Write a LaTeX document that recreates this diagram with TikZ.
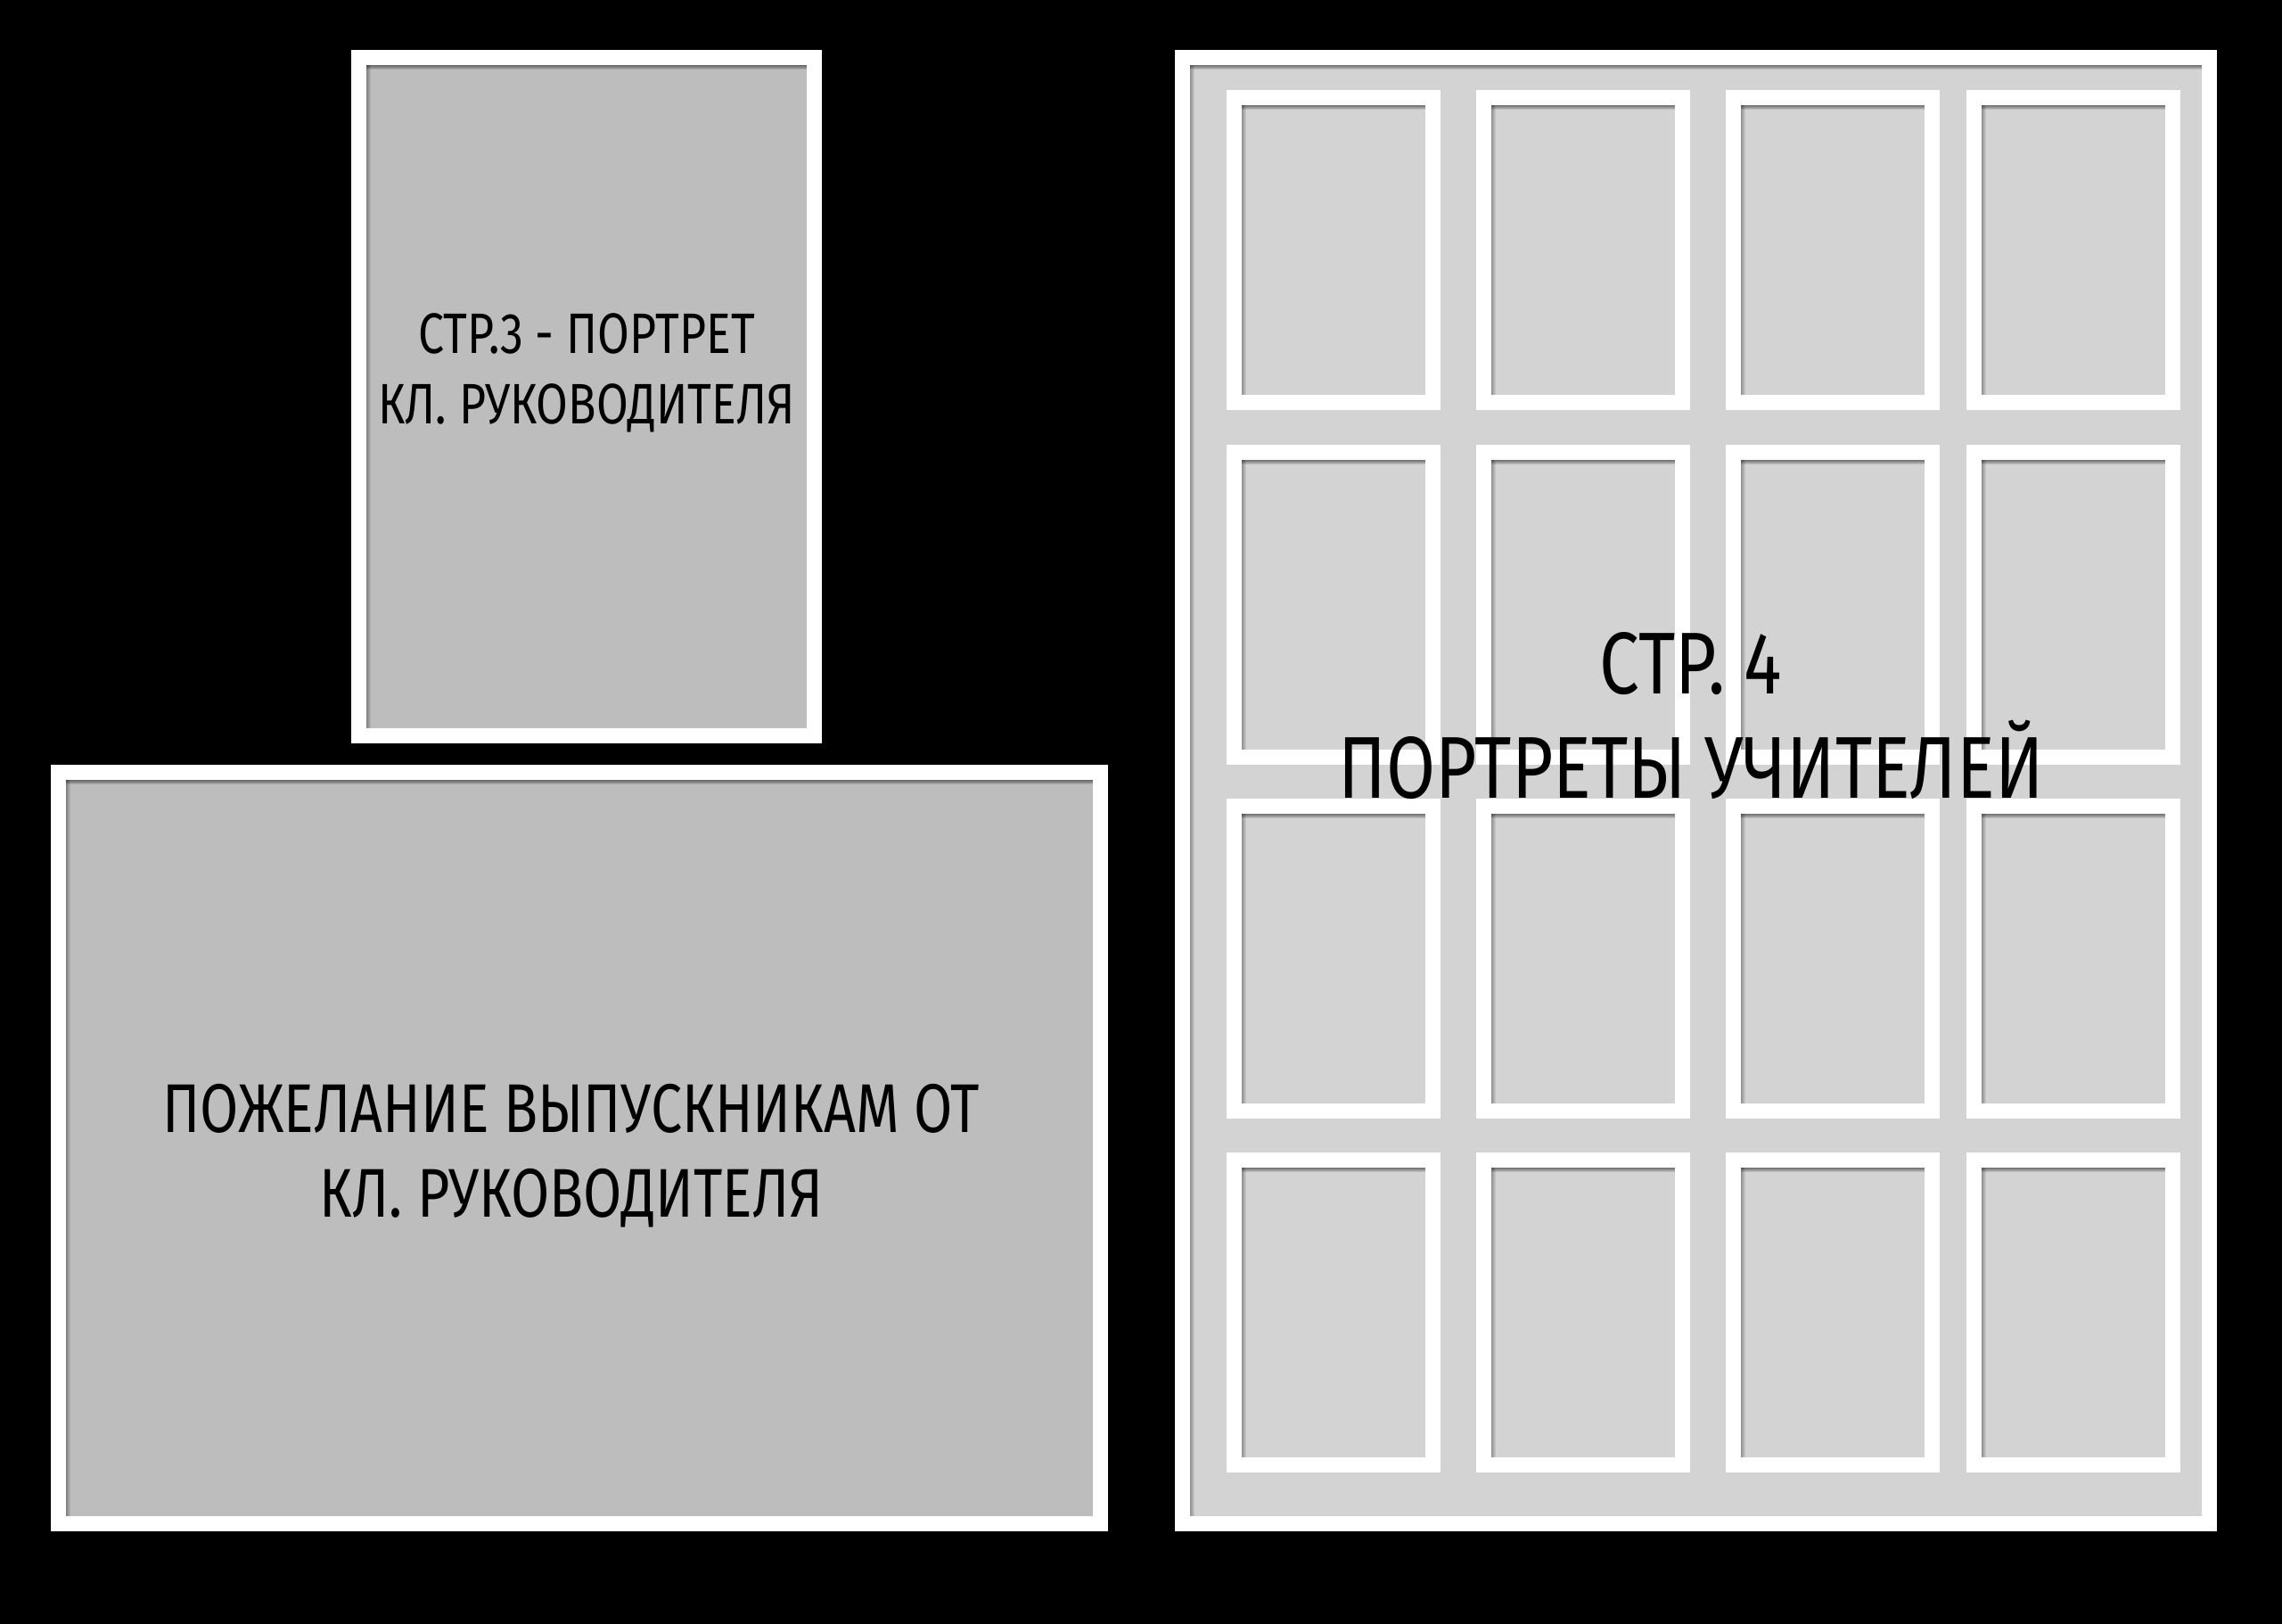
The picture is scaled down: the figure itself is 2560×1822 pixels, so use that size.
\documentclass[tikz,border=0pt]{standalone}
\usepackage{fontspec}
\usepackage{xcolor}
\usepackage{tikz}
\newfontfamily\plaque{Fira Sans}[FakeStretch=0.81]
\definecolor{panelgray}{RGB}{189,189,189}
\definecolor{photogray}{RGB}{211,211,211}
\tikzset{pagetext/.style={inner sep=0pt, anchor=base, text=black}}
\tikzset{smalltext/.style={pagetext, font=\plaque\fontsize{18.2}{21}\selectfont}}
\tikzset{widetext/.style={pagetext, font=\plaque\fontsize{22}{26}\selectfont}}
\tikzset{bigtext/.style={pagetext, font=\plaque\fontsize{28}{33}\selectfont}}
% white mat with a grey opening and a soft shadow on its top and left edges
\newcommand{\matframe}[5]{%
  \fill[white] (#1,#2) rectangle (#3,#4);
  \fill[#5] (#1+17,#2+17) rectangle (#3-17,#4-17);
  \foreach \k in {1,...,5}{
    \fill[black,opacity=0.11] (#1+17,#2+17) rectangle (#3-17,#2+17+\k);
    \fill[black,opacity=0.07] (#1+17,#2+17) rectangle (#1+17+\k,#4-17);
  }
}

\begin{document}
\begin{tikzpicture}[x=0.01cm,y=-0.01cm]
{
\useasboundingbox (0,0) rectangle (2560,1822);
\fill[black] (0,0) rectangle (2560,1822);
\matframe{394}{56}{922}{834}{panelgray}
\matframe{57}{858}{1243}{1718}{panelgray}
\matframe{1318}{56}{2487}{1718}{photogray}
\foreach \cx in {1376,1656,1936,2206}
  \foreach \cy in {101,499,896,1293}
    {\matframe{\cx}{\cy}{\cx+240}{\cy+359}{photogray}}
%\draw[red] (1902,56) -- (1902,1718);
\node[smalltext] (pagethree) at (658,397) {СТР.3 - ПОРТРЕТ};
\node[smalltext] (pagethreesub) at (658,476) {КЛ. РУКОВОДИТЕЛЯ};
\node[widetext] (wish) at (641,1270) {ПОЖЕЛАНИЕ ВЫПУСКНИКАМ ОТ};
\node[widetext] (wishsub) at (641,1365) {КЛ. РУКОВОДИТЕЛЯ};
\node[bigtext] (pagefour) at (1897,779) {СТР. 4};
\node[bigtext] (pagefoursub) at (1897,896) {ПОРТРЕТЫ УЧИТЕЛЕЙ};
}
\end{tikzpicture}
\end{document}
